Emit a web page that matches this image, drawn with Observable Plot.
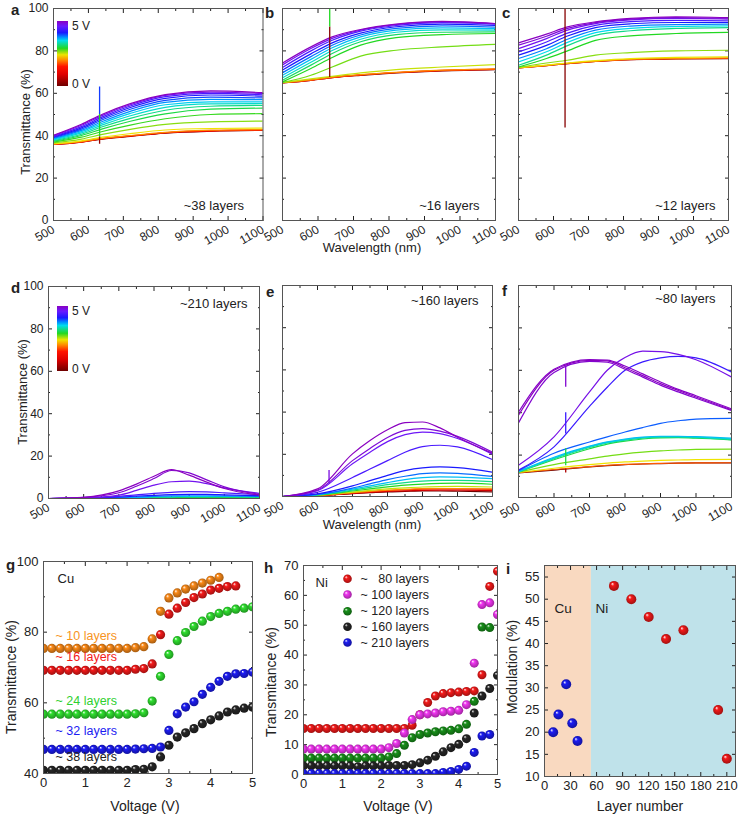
<!DOCTYPE html>
<html><head><meta charset="utf-8">
<script src="https://cdn.jsdelivr.net/npm/d3@7"></script>
<script src="https://cdn.jsdelivr.net/npm/@observablehq/plot@0.6"></script>
<style>
body{margin:0;background:#fff;}
#fig{position:relative;width:739px;height:818px;font-family:"Liberation Sans",Arial,Helvetica,sans-serif;color:#222;overflow:hidden;}
.cbar{position:absolute;width:11px;height:65px;}
#overlay{position:absolute;left:0;top:0;pointer-events:none;}
#overlay text{font-family:"Liberation Sans",Arial,Helvetica,sans-serif;fill:#222;}
.let{font-size:15px;font-weight:bold;}
.ax{font-size:13px;}
.ax3{font-size:14px;}
.cb{font-size:12px;}
</style>
</head><body>
<svg width="0" height="0" style="position:absolute"><defs id="balldefs"></defs></svg>
<div id="fig"></div>
<script>
// ---------- data ----------
// colour bar: voltage -> colour
const cbVolts  = [0, 0.9, 1.5, 2.0, 2.4, 2.9, 3.5, 3.75, 4.1, 4.6, 5.0];
const cbColors = ["#6e0000","#e00000","#ff1400","#ff8a00","#eee400","#22d822","#00dcec","#0090ff","#1a1aff","#6a1aff","#8a00c0"];

// wavelength samples (nm)
const wlTop = [500, 580, 640, 720, 820, 950, 1100];
const wlBot = [500, 600, 700, 750, 800, 850, 900, 950, 1000, 1100];

// rows: [colour-bar voltage, transmittance at each wavelength]
const specA = [
 [0.0, 35.9, 37.0, 38.4, 39.7, 41.2, 42.1, 42.5],
 [0.9, 35.9, 37.0, 38.5, 39.8, 41.3, 42.2, 42.6],
 [1.5, 36.0, 37.1, 38.6, 39.9, 41.4, 42.3, 42.7],
 [2.0, 36.0, 37.2, 38.7, 40.1, 41.6, 42.6, 42.9],
 [2.4, 36.2, 37.6, 39.3, 41.0, 42.7, 43.4, 43.6],
 [2.65, 36.6, 38.4, 40.6, 43.0, 45.3, 46.5, 46.9],
 [2.85, 37.0, 39.3, 42.0, 45.0, 48.0, 50.0, 50.4],
 [3.0, 37.4, 40.1, 43.2, 46.8, 50.3, 52.5, 53.0],
 [3.2, 37.7, 40.7, 44.2, 48.2, 52.0, 53.9, 54.3],
 [3.4, 38.0, 41.3, 45.1, 49.4, 53.4, 55.0, 55.2],
 [3.55, 38.4, 41.9, 45.9, 50.5, 54.6, 56.0, 56.0],
 [3.75, 38.7, 42.5, 46.7, 51.5, 55.7, 57.1, 57.0],
 [3.95, 39.1, 43.1, 47.5, 52.5, 56.7, 58.2, 57.8],
 [4.15, 39.4, 43.7, 48.2, 53.3, 57.6, 59.2, 58.6],
 [4.4, 39.7, 44.3, 48.9, 54.0, 58.4, 60.0, 59.3],
 [4.7, 40.0, 44.9, 49.6, 54.6, 59.0, 60.6, 59.9],
 [5.0, 40.2, 45.4, 50.1, 55.1, 59.4, 61.1, 60.3]
];
const specB = [
 [0.0, 64.9, 66.1, 67.4, 68.5, 69.6, 70.6, 71.2],
 [1.0, 64.9, 66.1, 67.4, 68.6, 69.7, 70.7, 71.3],
 [1.6, 65.0, 66.2, 67.5, 68.7, 69.8, 70.8, 71.4],
 [2.0, 65.0, 66.3, 67.6, 68.8, 69.9, 70.9, 71.5],
 [2.5, 65.0, 66.8, 68.0, 69.6, 71.2, 72.4, 73.5],
 [2.7, 65.0, 68.5, 72.4, 77.5, 80.3, 81.9, 83.1],
 [2.9, 65.4, 71.7, 76.9, 82.7, 86.3, 87.7, 88.2],
 [3.1, 66.2, 73.3, 78.8, 84.3, 87.7, 88.8, 89.0],
 [3.4, 67.3, 74.6, 80.2, 85.5, 88.8, 89.9, 89.8],
 [3.6, 68.5, 76.0, 81.5, 86.6, 89.8, 90.9, 90.5],
 [3.85, 69.7, 77.3, 82.7, 87.5, 90.6, 91.8, 91.2],
 [4.1, 71.0, 78.6, 83.8, 88.4, 91.4, 92.6, 92.0],
 [4.4, 72.2, 80.0, 85.0, 89.3, 92.0, 93.3, 92.6],
 [4.7, 73.4, 81.1, 85.9, 89.8, 92.4, 93.7, 92.8],
 [5.0, 74.3, 81.9, 86.6, 90.1, 92.6, 93.9, 92.9]
];
const specC = [
 [0.0, 72.0, 73.1, 74.0, 75.0, 75.9, 76.2, 76.4],
 [1.2, 72.0, 73.1, 74.0, 75.0, 75.9, 76.3, 76.5],
 [2.0, 72.0, 73.2, 74.1, 75.1, 76.0, 76.4, 76.7],
 [2.4, 72.1, 73.3, 74.3, 75.4, 76.4, 76.9, 77.2],
 [2.65, 72.2, 74.3, 75.6, 78.0, 79.2, 80.0, 80.3],
 [2.9, 72.4, 76.4, 80.0, 85.0, 87.1, 88.2, 88.7],
 [3.2, 73.2, 78.0, 82.5, 87.3, 89.5, 90.6, 91.0],
 [3.5, 74.8, 79.6, 84.0, 88.6, 90.6, 91.5, 91.8],
 [3.8, 76.4, 81.0, 85.5, 89.8, 91.7, 92.4, 92.6],
 [4.1, 78.0, 82.6, 87.0, 91.0, 92.8, 93.4, 93.4],
 [4.4, 79.5, 84.2, 88.4, 92.0, 93.8, 94.4, 94.2],
 [4.7, 81.1, 85.8, 89.8, 92.9, 94.6, 95.3, 95.0],
 [4.85, 82.7, 86.9, 90.6, 93.3, 95.0, 95.7, 95.4],
 [5.0, 83.8, 87.9, 91.3, 93.7, 95.3, 96.1, 95.7]
];
const specD = [
 [0.4, 0, 0, 0.1, 0.1, 0.1, 0.2, 0.2, 0.2, 0.2, 0.2],
 [1.6, 0, 0, 0.1, 0.2, 0.2, 0.3, 0.3, 0.3, 0.3, 0.3],
 [2.9, 0, 0, 0.2, 0.3, 0.4, 0.5, 0.5, 0.5, 0.5, 0.5],
 [3.5, 0, 0.1, 0.3, 0.5, 0.7, 0.8, 0.9, 0.9, 0.9, 0.8],
 [3.8, 0, 0.1, 0.4, 0.7, 1.0, 1.2, 1.3, 1.3, 1.2, 1.0],
 [4.1, 0, 0.2, 0.7, 1.1, 1.5, 1.8, 1.9, 1.9, 1.7, 1.3],
 [4.4, 0, 0.2, 1.0, 1.7, 2.4, 2.9, 3.2, 3.1, 2.7, 1.8],
 [4.7, 0, 0.3, 1.6, 3.8, 6.3, 7.9, 8.2, 7.0, 5.0, 2.4],
 [4.9, 0, 0.5, 2.7, 5.8, 9.4, 13.2, 12.1, 8.8, 5.5, 2.0],
 [5.0, 0, 0.6, 3.6, 6.8, 10.5, 13.6, 11.0, 7.7, 4.7, 1.6]
];
const specE = [
 [0.0, 0, 0.4, 1.4, 1.8, 2.2, 2.4, 2.6, 2.6, 2.5, 2.2],
 [0.8, 0, 0.4, 1.5, 2.0, 2.4, 2.7, 2.9, 3.0, 3.0, 2.8],
 [1.4, 0, 0.5, 1.7, 2.3, 2.8, 3.2, 3.5, 3.6, 3.6, 3.4],
 [2.0, 0, 0.5, 1.8, 2.4, 3.0, 3.4, 3.7, 3.8, 3.8, 3.6],
 [2.5, 0, 0.6, 2.1, 2.9, 3.6, 4.1, 4.5, 4.7, 4.8, 4.5],
 [2.9, 0, 0.7, 2.6, 3.6, 4.6, 5.4, 5.9, 6.2, 6.3, 5.8],
 [3.2, 0, 0.8, 3.0, 4.3, 5.6, 6.6, 7.3, 7.6, 7.6, 7.0],
 [3.6, 0, 0.9, 3.5, 5.0, 6.6, 8.0, 8.9, 9.3, 9.2, 8.5],
 [3.85, 0, 1.0, 4.0, 6.0, 8.0, 9.6, 10.8, 11.2, 11.0, 9.5],
 [4.1, 0, 1.2, 5.0, 7.5, 10.0, 12.3, 13.6, 14.0, 13.7, 11.5],
 [4.4, 0, 2.0, 9.0, 13.0, 17.0, 21.0, 23.6, 24.3, 23.5, 17.5],
 [4.65, 0, 2.7, 15.5, 21.0, 26.0, 29.3, 30.5, 29.8, 27.5, 20.0],
 [4.85, 0, 3.0, 17.0, 22.8, 28.0, 31.3, 32.2, 31.0, 28.5, 21.0],
 [5.0, 0, 3.6, 20.2, 26.5, 31.6, 35.0, 35.3, 32.5, 28.1, 20.5]
];
const specF = [
 [0.0, 11.6, 12.9, 14.4, 15.0, 15.5, 15.8, 16.0, 16.2, 16.3, 16.3],
 [1.8, 11.7, 13.2, 14.6, 15.2, 15.6, 15.9, 16.1, 16.2, 16.3, 16.4],
 [2.4, 11.8, 13.8, 15.5, 16.2, 16.8, 17.2, 17.5, 17.7, 17.9, 18.0],
 [2.7, 11.9, 15.5, 18.2, 19.5, 20.6, 21.4, 22.0, 22.4, 22.7, 22.8],
 [3.0, 12.0, 17.8, 23.0, 25.2, 26.6, 27.6, 28.1, 28.2, 28.0, 27.2],
 [3.2, 12.1, 18.3, 23.6, 25.7, 27.1, 28.0, 28.5, 28.5, 28.2, 27.3],
 [3.4, 12.2, 18.6, 24.0, 26.0, 27.3, 28.3, 28.7, 28.7, 28.5, 27.6],
 [3.6, 12.3, 19.0, 24.2, 26.2, 27.6, 28.5, 28.9, 28.9, 28.7, 28.0],
 [3.9, 12.6, 20.9, 26.2, 28.6, 30.9, 33.0, 35.0, 36.2, 37.0, 37.3],
 [4.3, 12.9, 23.9, 43.0, 52.0, 60.0, 64.0, 65.9, 66.6, 65.9, 59.2],
 [4.75, 15.2, 28.6, 49.8, 60.0, 66.0, 69.0, 68.8, 67.5, 65.0, 56.8],
 [4.9, 35.2, 59.0, 64.2, 63.8, 60.5, 56.8, 53.0, 49.8, 46.8, 41.0],
 [4.95, 40.3, 60.5, 65.0, 64.8, 62.0, 58.3, 54.5, 51.0, 48.0, 41.8],
 [5.0, 38.8, 60.0, 64.7, 64.4, 61.2, 57.5, 53.7, 50.5, 47.4, 41.4]
];
// detector-switch artefacts: [wavelength, from, to, colour-bar voltage]
const spikesA = [[632, 36, 39.5, 0.3], [632, 39.5, 50, 2.9], [632, 50, 63, 4.0]];
const spikesB = [[633, 67.4, 91.3, 0.2], [633, 91.3, 100, 2.9]];
const spikesC = [[633, 43.6, 100, 0.2]];
const spikesD = [];
const spikesE = [[633, 6, 12.3, 4.8]];
const spikesF = [[633, 52, 62, 4.9], [633, 30, 40, 4.3], [633, 15, 23, 3.0], [633, 11.5, 13.5, 0.5]];

// panel g / h : voltage sweep
const volts = [0,0.2,0.4,0.6,0.8,1.0,1.2,1.4,1.6,1.8,2.0,2.2,2.4,2.6,2.8,3.0,3.2,3.4,3.6,3.8,4.0,4.2,4.4,4.6,4.8,5.0];
const g10 = [75.4,75.4,75.4,75.4,75.4,75.4,75.4,75.4,75.4,75.4,75.4,75.6,75.9,78.1,85.9,89.7,91.1,92.2,93.1,93.9,94.7,95.5];
const g16 = [69.2,69.2,69.2,69.2,69.2,69.2,69.2,69.2,69.2,69.2,69.2,69.5,69.7,71.0,79.3,85.1,86.8,88.4,89.8,90.8,91.9,92.4,92.9,93.1];
const g24 = [56.8,56.8,56.8,56.8,56.8,56.8,56.8,56.8,56.8,56.8,56.8,56.9,57.2,60.5,67.5,73.7,77.6,79.9,81.6,83.1,84.4,85.3,85.9,86.5,86.8,87.2];
const g32 = [46.8,46.8,46.8,46.8,46.8,46.8,46.8,46.8,46.8,46.8,46.8,46.9,47.0,47.1,47.5,52.2,56.9,58.8,60.3,62.4,64.4,66.1,67.5,68.2,68.3,68.7];
const g38 = [40.9,40.9,40.9,40.9,40.9,40.9,40.9,40.9,40.9,40.9,40.9,41.1,41.2,41.9,44.7,48.0,50.3,51.5,52.7,54.1,55.2,56.3,57.4,58.0,58.5,58.8];
const h80  = [15.4,15.4,15.4,15.4,15.4,15.4,15.4,15.4,15.4,15.4,15.4,15.4,15.4,15.4,16.5,20.0,24.1,26.3,27.1,27.4,27.6,27.8,28.0,33.4,63.0,68.1];
const h100 = [8.5,8.5,8.5,8.5,8.5,8.5,8.5,8.5,8.5,8.5,8.5,9.0,10.4,13.9,18.4,20.0,20.3,20.6,21.0,21.2,21.5,23.4,37.3,56.9,57.5,53.6];
const h120 = [5.5,5.5,5.5,5.5,5.5,5.5,5.5,5.5,5.5,5.5,5.5,5.9,7.0,9.8,12.3,13.4,13.9,14.3,14.6,14.8,15.3,16.8,24.5,49.4,49.2];
const h160 = [2.9,2.9,2.9,2.9,2.9,2.9,2.9,2.6,2.9,2.9,2.9,3.0,3.0,3.0,3.3,3.9,4.8,6.1,7.6,9.0,10.1,12.0,20.6,26.3,28.8,33.2];
const h210 = [0.3,0.3,0.3,0.3,0.3,0.3,0.3,0.3,0.3,0.3,0.3,0.3,0.3,0.3,0.3,0.3,0.3,0.3,0.7,1.0,1.7,2.8,7.4,12.9,13.4];

// panel i
const cuLayers = [10, 16, 25, 32, 38];
const cuMod    = [20, 24, 30.8, 22, 18];
const niLayers = [80, 100, 120, 140, 160, 200, 210];
const niMod    = [53, 50, 46, 41, 43, 25, 14];
const bandX1 = [0, 54], bandX2 = [54, 220], bandFill = ["#f9d9c0", "#bfe2ea"];

// ---------- helpers ----------
const FONT = '"Liberation Sans", Arial, Helvetica, sans-serif';
const fig = document.getElementById("fig");

const ballColors = {orange:"#fb8a18", red:"#f41a1a", lime:"#2fe02f", blue:"#1c1cf2", black:"#262626", magenta:"#f236f2", green:"#18901a"};
const defs = document.getElementById("balldefs");
let defsHTML = "";
for (const [k, c] of Object.entries(ballColors)) {
  const dark = d3.color(c).darker(1.3).formatHex();
  defsHTML += `<radialGradient id="ball-${k}" cx="0.5" cy="0.5" r="0.55" fx="0.32" fy="0.28">
   <stop offset="0" stop-color="#ffffff"/><stop offset="0.3" stop-color="${c}"/><stop offset="1" stop-color="${dark}"/></radialGradient>`;
}
defs.innerHTML = defsHTML;

function tidy(rows, wls) {
  const out = [];
  rows.forEach((r, i) => wls.forEach((w, j) => out.push({id: i, v: r[0], wl: w, t: r[j + 1]})));
  return out;
}
const blank = () => "";
const plain = d => String(d);
function axes({xMajor, xMinor, yMajor, yMinor, xLab = true, yLab = true, rotate = 0, xPad = 8, fs = 12}) {
  return [
    Plot.axisX({anchor: "bottom", ticks: xMajor, tickSize: -4, tickPadding: xPad, tickRotate: rotate, tickFormat: xLab ? plain : blank, label: null, fontSize: fs}),
    Plot.axisX({anchor: "bottom", ticks: xMinor, tickSize: -2, tickFormat: blank, label: null}),
    Plot.axisX({anchor: "top", ticks: xMajor, tickSize: -4, tickFormat: blank, label: null}),
    Plot.axisX({anchor: "top", ticks: xMinor, tickSize: -2, tickFormat: blank, label: null}),
    Plot.axisY({anchor: "left", ticks: yMajor, tickSize: -4, tickPadding: 9, tickFormat: yLab ? plain : blank, label: null, fontSize: fs}),
    Plot.axisY({anchor: "left", ticks: yMinor, tickSize: -2, tickFormat: blank, label: null}),
    Plot.axisY({anchor: "right", ticks: yMajor, tickSize: -4, tickFormat: blank, label: null}),
    Plot.axisY({anchor: "right", ticks: yMinor, tickSize: -2, tickFormat: blank, label: null})
  ];
}
function place(box, m, opts) {
  const [x0, y0, x1, y1] = box, [mt, mr, mb, ml] = m;
  const svg = Plot.plot({
    width: x1 - x0 + ml + mr, height: y1 - y0 + mt + mb,
    marginTop: mt, marginRight: mr, marginBottom: mb, marginLeft: ml,
    style: {fontFamily: FONT, fontSize: "12px", color: "#222", background: "none", overflow: "visible"},
    ...opts
  });
  svg.style.position = "absolute";
  svg.style.left = (x0 - ml) + "px";
  svg.style.top = (y0 - mt) + "px";
  fig.appendChild(svg);
}
const colorScale = {type: "linear", domain: cbVolts, range: cbColors, interpolate: "rgb"};

function spectral(box, rows, wls, spikes, note, noteAnchor, ndx, ndy, yLab) {
  place(box, [8, 8, 34, yLab ? 52 : 10], {
    x: {domain: [500, 1100]}, y: {domain: [0, 100]}, color: colorScale,
    marks: [
      ...axes({xMajor: [500,600,700,800,900,1000,1100], xMinor: [550,650,750,850,950,1050],
               yMajor: [0,20,40,60,80,100], yMinor: [10,30,50,70,90], yLab, rotate: -30, xPad: 12}),
      Plot.line(tidy(rows, wls), {x: "wl", y: "t", z: "id", stroke: "v", curve: "monotone-x", strokeWidth: 1.2, clip: true}),
      Plot.ruleX(spikes, {x: d => d[0], y1: d => d[1], y2: d => d[2], stroke: d => d[3], strokeWidth: 1.3, clip: true}),
      Plot.text([note], {text: d => d, frameAnchor: noteAnchor, dx: ndx, dy: ndy, textAnchor: "end", lineAnchor: "middle", fontSize: 13}),
      Plot.frame({stroke: "#555"})
    ]
  });
}

// ---------- row 1 & 2 ----------
spectral([52.5, 8, 262, 220], specA, wlTop, spikesA, "~38 layers", "bottom-right", -19, -15, true);
spectral([282, 8, 495, 220], specB, wlTop, spikesB, "~16 layers", "bottom-right", -16, -15, false);
spectral([518, 8, 728, 220], specC, wlTop, spikesC, "~12 layers", "bottom-right", -13, -15, false);
spectral([48, 286, 259, 498], specD, wlBot, spikesD, "~210 layers", "top-right", -12, 17, true);
spectral([282, 285, 492, 496], specE, wlBot, spikesE, "~160 layers", "top-right", -14, 15, false);
spectral([518, 285, 731, 497], specF, wlBot, spikesF, "~80 layers", "top-right", -16, 13, false);

// colour bars
const grad = "linear-gradient(to top," + cbVolts.map((v, i) => `${cbColors[i]} ${(v / 5 * 100).toFixed(1)}%`).join(",") + ")";
for (const top of [21, 306]) {
  const d = document.createElement("div");
  d.className = "cbar"; d.style.left = "57px"; d.style.top = top + "px"; d.style.background = grad;
  fig.appendChild(d);
}

// ---------- panel g ----------
const gSeries = [
  {vals: g38, ball: "black", txt: "#222", label: "~ 38 layers", dy: 195},
  {vals: g32, ball: "blue", txt: "#1c1cf2", label: "~ 32 layers", dy: 169},
  {vals: g24, ball: "lime", txt: "#2fd02f", label: "~ 24 layers", dy: 139},
  {vals: g16, ball: "red", txt: "#f41a1a", label: "~ 16 layers", dy: 95},
  {vals: g10, ball: "orange", txt: "#f7941d", label: "~ 10 layers", dy: 74}
];
place([43, 561, 252, 773], [8, 8, 22, 43], {
  x: {domain: [0, 5]}, y: {domain: [40, 100]},
  marks: [
    ...axes({xMajor: [0,1,2,3,4,5], xMinor: [0.5,1.5,2.5,3.5,4.5], yMajor: [40,60,80,100], yMinor: [50,70,90], xPad: 8, fs: 13}),
    ...gSeries.map(s => Plot.dot(s.vals.map((t, i) => ({V: volts[i], t})), {x: "V", y: "t", r: 4.6, fill: `url(#ball-${s.ball})`, clip: true})),
    ...gSeries.map(s => Plot.text([s.label], {text: d => d, frameAnchor: "top-left", dx: 12, dy: s.dy, textAnchor: "start", lineAnchor: "middle", fill: s.txt, fontSize: 12.5})),
    Plot.text(["Cu"], {text: d => d, frameAnchor: "top-left", dx: 14, dy: 17, textAnchor: "start", lineAnchor: "middle", fontSize: 13}),
    Plot.frame({stroke: "#555"})
  ]
});

// ---------- panel h ----------
const hSeries = [
  {vals: h80, ball: "red", label: "~ \u200780 layers"},
  {vals: h100, ball: "magenta", label: "~ 100 layers"},
  {vals: h120, ball: "green", label: "~ 120 layers"},
  {vals: h160, ball: "black", label: "~ 160 layers"},
  {vals: h210, ball: "blue", label: "~ 210 layers"}
];
const legendDy = [13.3, 29, 45.7, 61.3, 77];
place([303, 565, 497, 774], [8, 8, 22, 30], {
  x: {domain: [0, 5]}, y: {domain: [0, 70]},
  marks: [
    ...axes({xMajor: [0,1,2,3,4,5], xMinor: [0.5,1.5,2.5,3.5,4.5], yMajor: [0,10,20,30,40,50,60,70], yMinor: [5,15,25,35,45,55,65], xPad: 8, fs: 13}),
    ...hSeries.map(s => Plot.dot(s.vals.map((t, i) => ({V: volts[i], t})), {x: "V", y: "t", r: 4.5, fill: `url(#ball-${s.ball})`, clip: true})),
    ...hSeries.map((s, i) => Plot.dot([0], {frameAnchor: "top-left", dx: 44, dy: legendDy[i], r: 4.3, fill: `url(#ball-${s.ball})`})),
    ...hSeries.map((s, i) => Plot.text([s.label], {text: d => d, frameAnchor: "top-left", dx: 57, dy: legendDy[i], textAnchor: "start", lineAnchor: "middle", fontSize: 12.5})),
    Plot.text(["Ni"], {text: d => d, frameAnchor: "top-left", dx: 12, dy: 17, textAnchor: "start", lineAnchor: "middle", fontSize: 13}),
    Plot.frame({stroke: "#555"})
  ]
});

// ---------- panel i ----------
place([544, 565, 735, 776], [8, 4, 22, 30], {
  x: {domain: [0, 220]}, y: {domain: [10, 57.6]},
  marks: [
    Plot.rect(bandX1.map((x1, i) => ({x1, x2: bandX2[i], f: bandFill[i]})), {x1: "x1", x2: "x2", fill: d => d.f}),
    ...axes({xMajor: [0,30,60,90,120,150,180,210], xMinor: [15,45,75,105,135,165,195], yMajor: [10,15,20,25,30,35,40,45,50,55], yMinor: [], xPad: 8, fs: 13}),
    Plot.dot(cuLayers.map((x, i) => ({x, y: cuMod[i]})), {x: "x", y: "y", r: 5, fill: "url(#ball-blue)"}),
    Plot.dot(niLayers.map((x, i) => ({x, y: niMod[i]})), {x: "x", y: "y", r: 5, fill: "url(#ball-red)"}),
    Plot.text(["Cu"], {text: d => d, frameAnchor: "top-left", dx: 10, dy: 43, textAnchor: "start", lineAnchor: "middle", fontSize: 13.5}),
    Plot.text(["Ni"], {text: d => d, frameAnchor: "top-left", dx: 51, dy: 43, textAnchor: "start", lineAnchor: "middle", fontSize: 13.5}),
    Plot.frame({stroke: "#555"})
  ],
  color: {type: "identity"}
});

// ---------- overlay texts ----------
const ns = "http://www.w3.org/2000/svg";
const ov = document.createElementNS(ns, "svg");
ov.setAttribute("id", "overlay"); ov.setAttribute("width", 739); ov.setAttribute("height", 818);
function txt(s, x, y, cls, opts = {}) {
  const t = document.createElementNS(ns, "text");
  t.textContent = s; t.setAttribute("x", x); t.setAttribute("y", y); t.setAttribute("class", cls);
  if (opts.anchor) t.setAttribute("text-anchor", opts.anchor);
  if (opts.rot) { t.setAttribute("transform", `rotate(-90 ${x} ${y})`); t.setAttribute("dominant-baseline", "central"); }
  ov.appendChild(t);
}
[["a", 11, 15], ["b", 265, 18], ["c", 502, 18], ["d", 11, 293], ["e", 266, 297], ["f", 502, 296], ["g", 6, 570], ["h", 264, 573], ["i", 506, 574]]
  .forEach(([s, x, y]) => txt(s, x, y, "let"));
txt("Wavelength (nm)", 372, 252, "ax", {anchor: "middle"});
txt("Wavelength (nm)", 372, 529, "ax", {anchor: "middle"});
txt("Transmittance (%)", 25.5, 122, "ax", {anchor: "middle", rot: true});
txt("Transmittance (%)", 22, 392, "ax", {anchor: "middle", rot: true});
txt("Transmittance (%)", 11, 677, "ax3", {anchor: "middle", rot: true});
txt("Transmitance (%)", 271, 682, "ax3", {anchor: "middle", rot: true});
txt("Modulation (%)", 512, 667, "ax3", {anchor: "middle", rot: true});
txt("Voltage (V)", 145, 811, "ax3", {anchor: "middle"});
txt("Voltage (V)", 398, 811, "ax3", {anchor: "middle"});
txt("Layer number", 640, 811, "ax3", {anchor: "middle"});
txt("5 V", 72, 30, "cb"); txt("0 V", 72, 88, "cb");
txt("5 V", 72, 315, "cb"); txt("0 V", 72, 373, "cb");
fig.appendChild(ov);
</script>
</body></html>
